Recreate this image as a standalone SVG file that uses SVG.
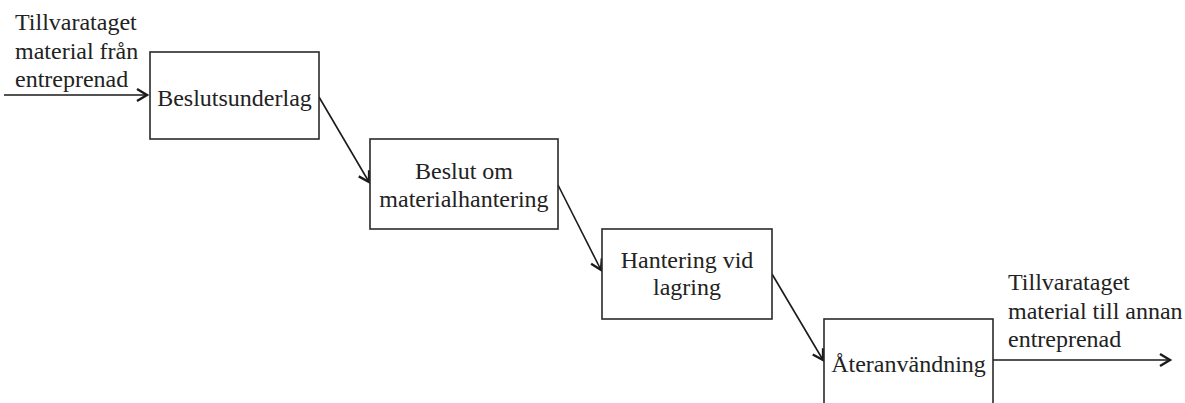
<svg xmlns="http://www.w3.org/2000/svg" width="1185" height="403" viewBox="0 0 1185 403">
<style>
.box{fill:#fff;stroke:#2a2a2a;stroke-width:1.6}
.t{font-family:"Liberation Serif","Times New Roman",serif;font-size:24px;fill:#222}
.c{text-anchor:middle}
.conn{stroke:#1a1a1a;stroke-width:1.6;fill:none}
</style>
<defs>
<marker id="arr" markerUnits="userSpaceOnUse" markerWidth="16" markerHeight="16" viewBox="0 0 16 16" refX="12" refY="8" orient="auto">
<path d="M2,2 L12,8 L2,14" fill="none" stroke="#1a1a1a" stroke-width="2.4" stroke-linejoin="miter"/>
</marker>
</defs>
<rect width="1185" height="403" fill="#fff"/>
<g id="connectors">
<line class="conn" x1="4" y1="95" x2="147" y2="95" marker-end="url(#arr)"/>
<line class="conn" x1="319" y1="97" x2="369" y2="182" marker-end="url(#arr)"/>
<line class="conn" x1="558" y1="185" x2="601" y2="270" marker-end="url(#arr)"/>
<line class="conn" x1="772" y1="274" x2="823" y2="360" marker-end="url(#arr)"/>
<line class="conn" x1="993" y1="360" x2="1170" y2="360" marker-end="url(#arr)"/>
</g>
<g id="input-label">
<text class="t" x="15" y="30">Tillvarataget</text>
<text class="t" x="15" y="59">material från</text>
<text class="t" x="15" y="87">entreprenad</text>
</g>
<g id="beslutsunderlag">
<rect class="box" x="150" y="52" width="169" height="87"/>
<text class="t c" x="234.5" y="106">Beslutsunderlag</text>
</g>
<g id="beslut">
<rect class="box" x="370" y="139" width="188" height="90"/>
<text class="t c" x="464" y="179">Beslut om</text>
<text class="t c" x="464" y="207">materialhantering</text>
</g>
<g id="hantering">
<rect class="box" x="602" y="229" width="170" height="90"/>
<text class="t c" x="687" y="268">Hantering vid</text>
<text class="t c" x="687" y="295">lagring</text>
</g>
<g id="ateranvandning">
<rect class="box" x="824" y="319" width="169" height="100"/>
<text class="t c" x="908.5" y="372">Återanvändning</text>
</g>
<g id="output-label">
<text class="t" x="1008" y="290">Tillvarataget</text>
<text class="t" x="1008" y="319">material till annan</text>
<text class="t" x="1008" y="347">entreprenad</text>
</g>
</svg>
